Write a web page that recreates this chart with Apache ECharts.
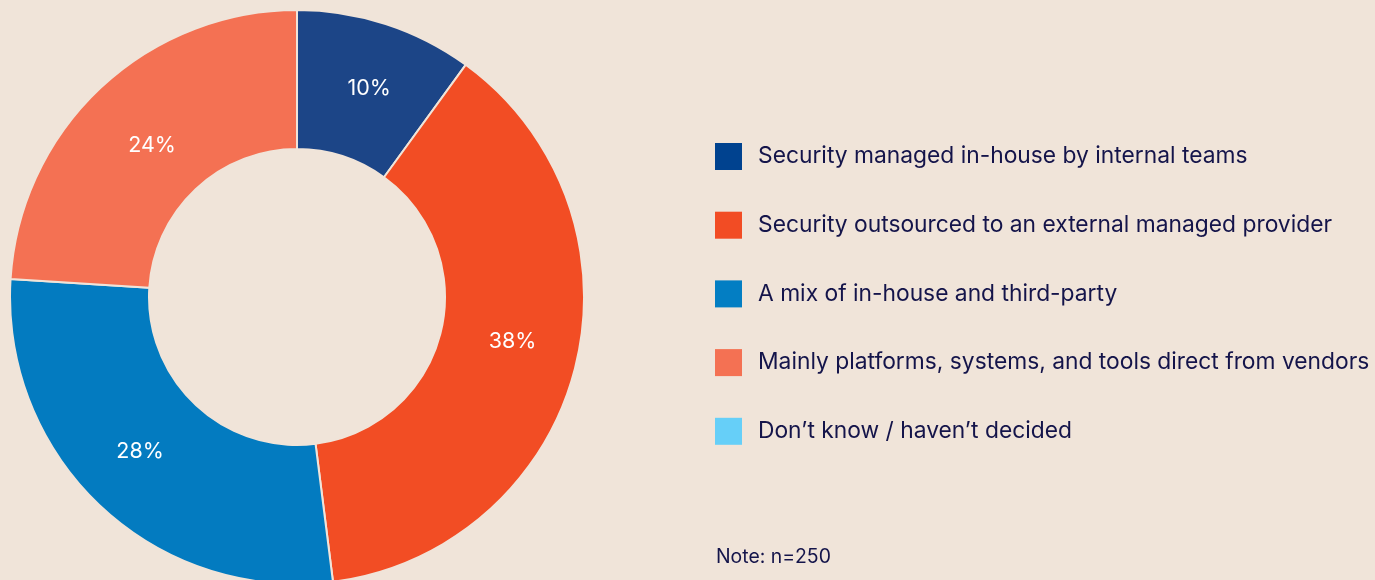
<!DOCTYPE html>
<html>
<head>
<meta charset="utf-8">
<script src="https://cdn.jsdelivr.net/npm/echarts@6/dist/echarts.min.js"></script>
<style>
html,body{margin:0;padding:0;background:#f0e4d9;}
#c{width:1375px;height:580px;}
</style>
</head>
<body>
<div id="c"></div>
<script>
const categories = [
  "Security managed in-house by internal teams",
  "Security outsourced to an external managed provider",
  "A mix of in-house and third-party",
  "Mainly platforms, systems, and tools direct from vendors",
  "Don\u2019t know / haven\u2019t decided"
];
const values = [10, 38, 28, 24, 0];
const sliceColors = ["#1c4587", "#f24d24", "#037bc0", "#f47153", "#66cff8"];
const legendColors = ["#00428f", "#f24c24", "#037ec3", "#f47153", "#66cff8"];
const noteText = "Note: n=250";

// small per-label nudges (style only) to match the reference label placement
const labelNudges = [[4, 1], [2, -10], [-6, -6], [6, 9], [0, 0]];

const FONT = "Inter, 'Noto Sans', sans-serif";
const chart = echarts.init(document.getElementById('c'), null, {renderer: 'canvas'});
chart.setOption({
  backgroundColor: '#f0e4d9',
  animation: false,
  legend: {
    orient: 'vertical',
    left: 715,
    top: 143,
    padding: 0,
    itemWidth: 27,
    itemHeight: 27,
    itemGap: 41.7,
    icon: 'rect',
    selectedMode: false,
    textStyle: {fontFamily: FONT, fontSize: 22.8, color: '#14144a', padding: [0, 0, 0, 11]},
    data: categories.map((c, i) => ({name: c, itemStyle: {color: legendColors[i], borderWidth: 0}}))
  },
  graphic: [{
    type: 'text', x: 716, y: 557,
    style: {text: noteText, fontFamily: FONT, fontSize: 19.4, fill: '#14144a', verticalAlign: 'middle'}
  }],
  series: [{
    type: 'pie',
    center: [297, 297],
    radius: [148, 287],
    startAngle: 90,
    clockwise: true,
    avoidLabelOverlap: false,
    itemStyle: {borderColor: '#f0e4d9', borderWidth: 2},
    label: {
      show: true, position: 'inside', formatter: '{c}%',
      color: '#ffffff', fontFamily: FONT, fontSize: 21.5
    },
    labelLine: {show: false},
    emphasis: {disabled: true},
    data: categories.map((c, i) => ({
      name: c, value: values[i],
      itemStyle: {color: sliceColors[i]},
      label: {show: values[i] > 0, offset: labelNudges[i]}
    }))
  }]
});
</script>
</body>
</html>
